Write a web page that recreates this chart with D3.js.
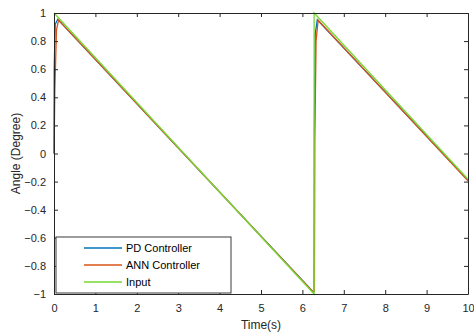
<!DOCTYPE html>
<html>
<head>
<meta charset="utf-8">
<script src="https://cdn.jsdelivr.net/npm/d3@7"></script>
<style>
  body { margin: 0; background: #fff; }
  svg { font-family: "Liberation Sans", Arial, sans-serif; }
</style>
</head>
<body>
<svg width="474" height="333"></svg>
<script>
// input sawtooth vertices
const inputTime = [0, 6.283, 6.283, 10];
const inputVals = [1, -1, 1, -0.183];

// PD controller response vertices
const pdTime = [0, 0.005, 0.03, 0.09, 6.262, 6.283, 6.29, 6.31, 6.36, 10];
const pdVals = [0, 0.6, 0.92, 0.955, -0.985, -0.98, 0.2, 0.85, 0.952, -0.19];

// ANN controller response vertices
const annTime = [0, 0.02, 0.06, 0.11, 6.265, 6.29, 6.30, 6.33, 6.38, 10];
const annVals = [0, 0.45, 0.88, 0.95, -0.988, -0.98, 0.1, 0.8, 0.948, -0.195];

const xTicks = [0, 1, 2, 3, 4, 5, 6, 7, 8, 9, 10];
const yTicks = [-1, -0.8, -0.6, -0.4, -0.2, 0, 0.2, 0.4, 0.6, 0.8, 1];

const series = [
  { name: 'PD Controller', t: pdTime, v: pdVals, color: '#0072BD' },
  { name: 'ANN Controller', t: annTime, v: annVals, color: '#D95319' },
  { name: 'Input', t: inputTime, v: inputVals, color: '#77d933' }
];

const MARGIN = { left: 54, right: 6, top: 13, bottom: 39 };
const W = 474, H = 333;
const svg = d3.select('svg');

const x = d3.scaleLinear().domain([0, 10]).range([MARGIN.left, W - MARGIN.right]);
const y = d3.scaleLinear().domain([-1, 1]).range([H - MARGIN.bottom, MARGIN.top]);

// curves
const line = d3.line().x(d => x(d[0])).y(d => y(d[1]));
svg.append('g').selectAll('path')
  .data(series)
  .enter()
  .append('path')
  .attr('d', s => line(s.t.map((t, i) => [t, s.v[i]])))
  .attr('fill', 'none')
  .attr('stroke', s => s.color)
  .attr('stroke-width', 1.3);

// axes (ticks inward, box on)
const tk = 4;
const axStyle = g => {
  g.select('.domain').attr('stroke', '#262626');
  g.selectAll('.tick line').attr('stroke', '#262626');
  g.selectAll('text').attr('fill', '#262626').style('font-size', '11px');
};
svg.append('g')
  .attr('transform', `translate(0,${y(-1)})`)
  .call(d3.axisBottom(x).tickValues(xTicks).tickSize(-tk).tickSizeOuter(0).tickPadding(10).tickFormat(d3.format('d')))
  .call(axStyle);
svg.append('g')
  .attr('transform', `translate(0,${y(1)})`)
  .call(d3.axisTop(x).tickValues(xTicks).tickSize(-tk).tickSizeOuter(0).tickFormat(''))
  .call(axStyle);
svg.append('g')
  .attr('transform', `translate(${x(0)},0)`)
  .call(d3.axisLeft(y).tickValues(yTicks).tickSize(-tk).tickSizeOuter(0).tickPadding(8).tickFormat(d => d3.format('~g')(d)))
  .call(axStyle);
svg.append('g')
  .attr('transform', `translate(${x(10)},0)`)
  .call(d3.axisRight(y).tickValues(yTicks).tickSize(-tk).tickSizeOuter(0).tickFormat(''))
  .call(axStyle);

// axis labels
svg.append('text')
  .attr('x', (x(0) + x(10)) / 2)
  .attr('y', 329)
  .attr('text-anchor', 'middle')
  .attr('fill', '#262626')
  .style('font-size', '12px')
  .text('Time(s)');
svg.append('text')
  .attr('transform', `translate(20,${(y(1) + y(-1)) / 2}) rotate(-90)`)
  .attr('text-anchor', 'middle')
  .attr('fill', '#262626')
  .style('font-size', '12px')
  .text('Angle (Degree)');

// legend
const lg = svg.append('g').attr('transform', 'translate(56,237)');
lg.append('rect')
  .attr('width', 175).attr('height', 56)
  .attr('fill', '#fff')
  .attr('stroke', '#3a3a3a')
  .attr('stroke-width', 1);
const items = lg.selectAll('.item')
  .data(series)
  .enter()
  .append('g')
  .attr('transform', (d, i) => `translate(0,${11 + i * 17})`);
items.append('line')
  .attr('x1', 28).attr('x2', 66)
  .attr('stroke', d => d.color)
  .attr('stroke-width', 1.3);
items.append('text')
  .attr('x', 70).attr('y', 4)
  .attr('fill', '#000')
  .style('font-size', '11px')
  .text(d => d.name);
</script>
</body>
</html>
